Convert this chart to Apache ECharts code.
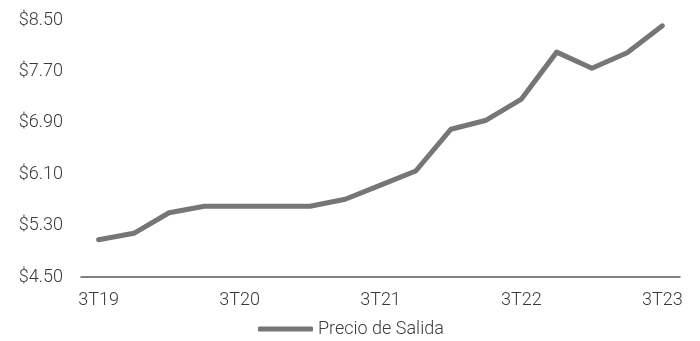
<!DOCTYPE html>
<html>
<head>
<meta charset="utf-8">
<script src="https://cdn.jsdelivr.net/npm/echarts@6/dist/echarts.min.js"></script>
<style>
  html, body { margin: 0; padding: 0; background: #ffffff; }
  #chart { width: 700px; height: 341px; }
</style>
</head>
<body>
<div id="chart"></div>
<script>
// Quarterly exit price
const quarters = ['3T19','4T19','1T20','2T20','3T20','4T20','1T21','2T21','3T21','4T21','1T22','2T22','3T22','4T22','1T23','2T23','3T23'];
const exitPrice = [5.08, 5.18, 5.50, 5.60, 5.60, 5.60, 5.60, 5.71, 5.93, 6.15, 6.80, 6.94, 7.27, 8.00, 7.75, 7.99, 8.41];
const seriesName = 'Precio de Salida';

const textColor = '#3a3a3a';
const fontFamily = 'Roboto, "Liberation Sans", sans-serif';

const chart = echarts.init(document.getElementById('chart'), null, { renderer: 'canvas' });
chart.setOption({
  animation: false,
  backgroundColor: '#ffffff',
  grid: { left: 81, right: 20, top: 20, bottom: 64 },
  xAxis: {
    type: 'category',
    data: quarters,
    boundaryGap: true,
    axisLine: { lineStyle: { color: '#595959', width: 1.5 } },
    axisTick: { show: false },
    axisLabel: {
      interval: 3,
      color: textColor,
      fontSize: 18,
      fontWeight: 300,
      fontFamily: fontFamily,
      margin: 14
    }
  },
  yAxis: {
    type: 'value',
    min: 4.5,
    max: 8.5,
    interval: 0.8,
    axisLine: { show: false },
    axisTick: { show: false },
    splitLine: { show: false },
    axisLabel: {
      color: textColor,
      fontSize: 18,
      fontWeight: 300,
      fontFamily: fontFamily,
      margin: 18,
      formatter: v => '$' + v.toFixed(2)
    }
  },
  legend: {
    top: 320,
    left: 258,
    padding: 0,
    icon: 'roundRect',
    itemWidth: 55,
    itemHeight: 5,
    textStyle: { color: textColor, fontSize: 18, fontWeight: 300, fontFamily: fontFamily },
    data: [seriesName]
  },
  series: [{
    name: seriesName,
    type: 'line',
    data: exitPrice,
    symbol: 'none',
    lineStyle: { color: '#767676', width: 5, cap: 'round', join: 'round' },
    itemStyle: { color: '#767676' }
  }]
});
</script>
</body>
</html>
